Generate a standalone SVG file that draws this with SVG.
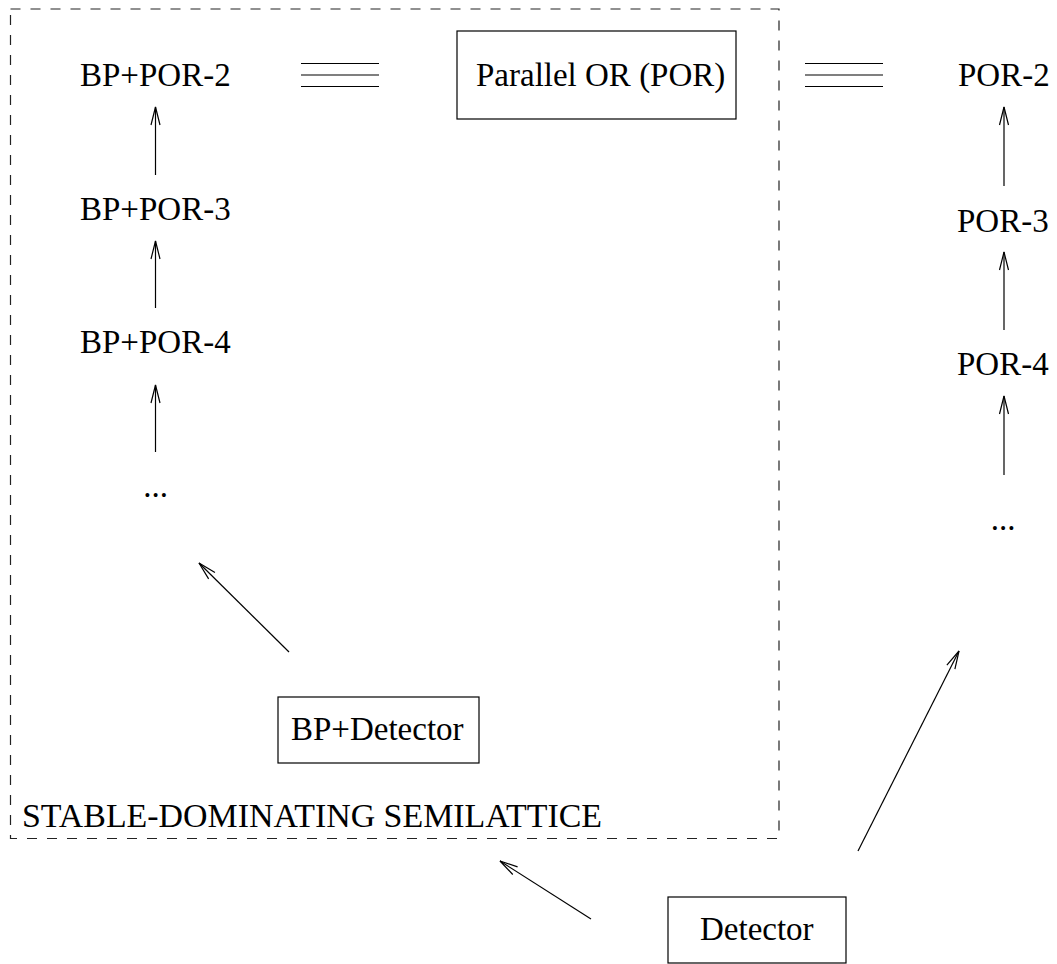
<svg xmlns="http://www.w3.org/2000/svg" width="1057" height="964" viewBox="0 0 1057 964">
<style>
.t{font-family:"Liberation Serif","Times New Roman",serif;font-size:33px;fill:#000}
.box{fill:none;stroke:#000;stroke-width:1.2}
.ln{stroke:#000;stroke-width:1.2;fill:none}
.dash{fill:none;stroke:#222;stroke-width:1.2;stroke-dasharray:10 10}
</style>
<defs>
<marker id="ah" markerUnits="userSpaceOnUse" markerWidth="24" markerHeight="14" refX="0" refY="0" viewBox="-20 -7 24 14" orient="auto" overflow="visible">
<path d="M-18,-4.5 L0,0 L-18,4.5" fill="none" stroke="#000" stroke-width="1.2"/>
</marker>
</defs>
<g id="semilattice">
<rect class="dash" x="10.5" y="9" width="768.5" height="829.5"/>
<text class="t" x="22" y="827" textLength="580" lengthAdjust="spacingAndGlyphs">STABLE-DOMINATING SEMILATTICE</text>
</g>
<g id="bp-por-2"><text class="t" x="80" y="86">BP+POR-2</text></g>
<g id="bp-por-3"><text class="t" x="80" y="220">BP+POR-3</text></g>
<g id="bp-por-4"><text class="t" x="80" y="353">BP+POR-4</text></g>
<g id="bp-dots"><text class="t" x="155.5" y="497" text-anchor="middle">...</text></g>
<g id="por">
<rect class="box" x="457" y="31" width="279" height="88"/>
<text class="t" x="476" y="86">Parallel OR (POR)</text>
</g>
<g id="por-2"><text class="t" x="958" y="86">POR-2</text></g>
<g id="por-3"><text class="t" x="957" y="232">POR-3</text></g>
<g id="por-4"><text class="t" x="957" y="375">POR-4</text></g>
<g id="por-dots"><text class="t" x="1003" y="530" text-anchor="middle">...</text></g>
<g id="bp-detector">
<rect class="box" x="278" y="697" width="201" height="66"/>
<text class="t" x="291" y="740">BP+Detector</text>
</g>
<g id="detector">
<rect class="box" x="668" y="897" width="178" height="66"/>
<text class="t" x="700" y="940">Detector</text>
</g>
<g id="connectors">
<line class="ln" x1="301" y1="63.5" x2="379" y2="63.5"/>
<line class="ln" x1="301" y1="75" x2="379" y2="75"/>
<line class="ln" x1="301" y1="86.5" x2="379" y2="86.5"/>
<line class="ln" x1="805" y1="63.5" x2="883" y2="63.5"/>
<line class="ln" x1="805" y1="75" x2="883" y2="75"/>
<line class="ln" x1="805" y1="86.5" x2="883" y2="86.5"/>
<line class="ln" x1="155.5" y1="175" x2="155.5" y2="107" marker-end="url(#ah)"/>
<line class="ln" x1="155.5" y1="308" x2="155.5" y2="241" marker-end="url(#ah)"/>
<line class="ln" x1="155.5" y1="452" x2="155.5" y2="385" marker-end="url(#ah)"/>
<line class="ln" x1="1004" y1="186" x2="1004" y2="107" marker-end="url(#ah)"/>
<line class="ln" x1="1004" y1="330" x2="1004" y2="252" marker-end="url(#ah)"/>
<line class="ln" x1="1004" y1="475" x2="1004" y2="396" marker-end="url(#ah)"/>
<line class="ln" x1="289" y1="652" x2="199" y2="563" marker-end="url(#ah)"/>
<line class="ln" x1="858" y1="851" x2="959" y2="651" marker-end="url(#ah)"/>
<line class="ln" x1="591" y1="919" x2="500" y2="861" marker-end="url(#ah)"/>
</g>
</svg>
